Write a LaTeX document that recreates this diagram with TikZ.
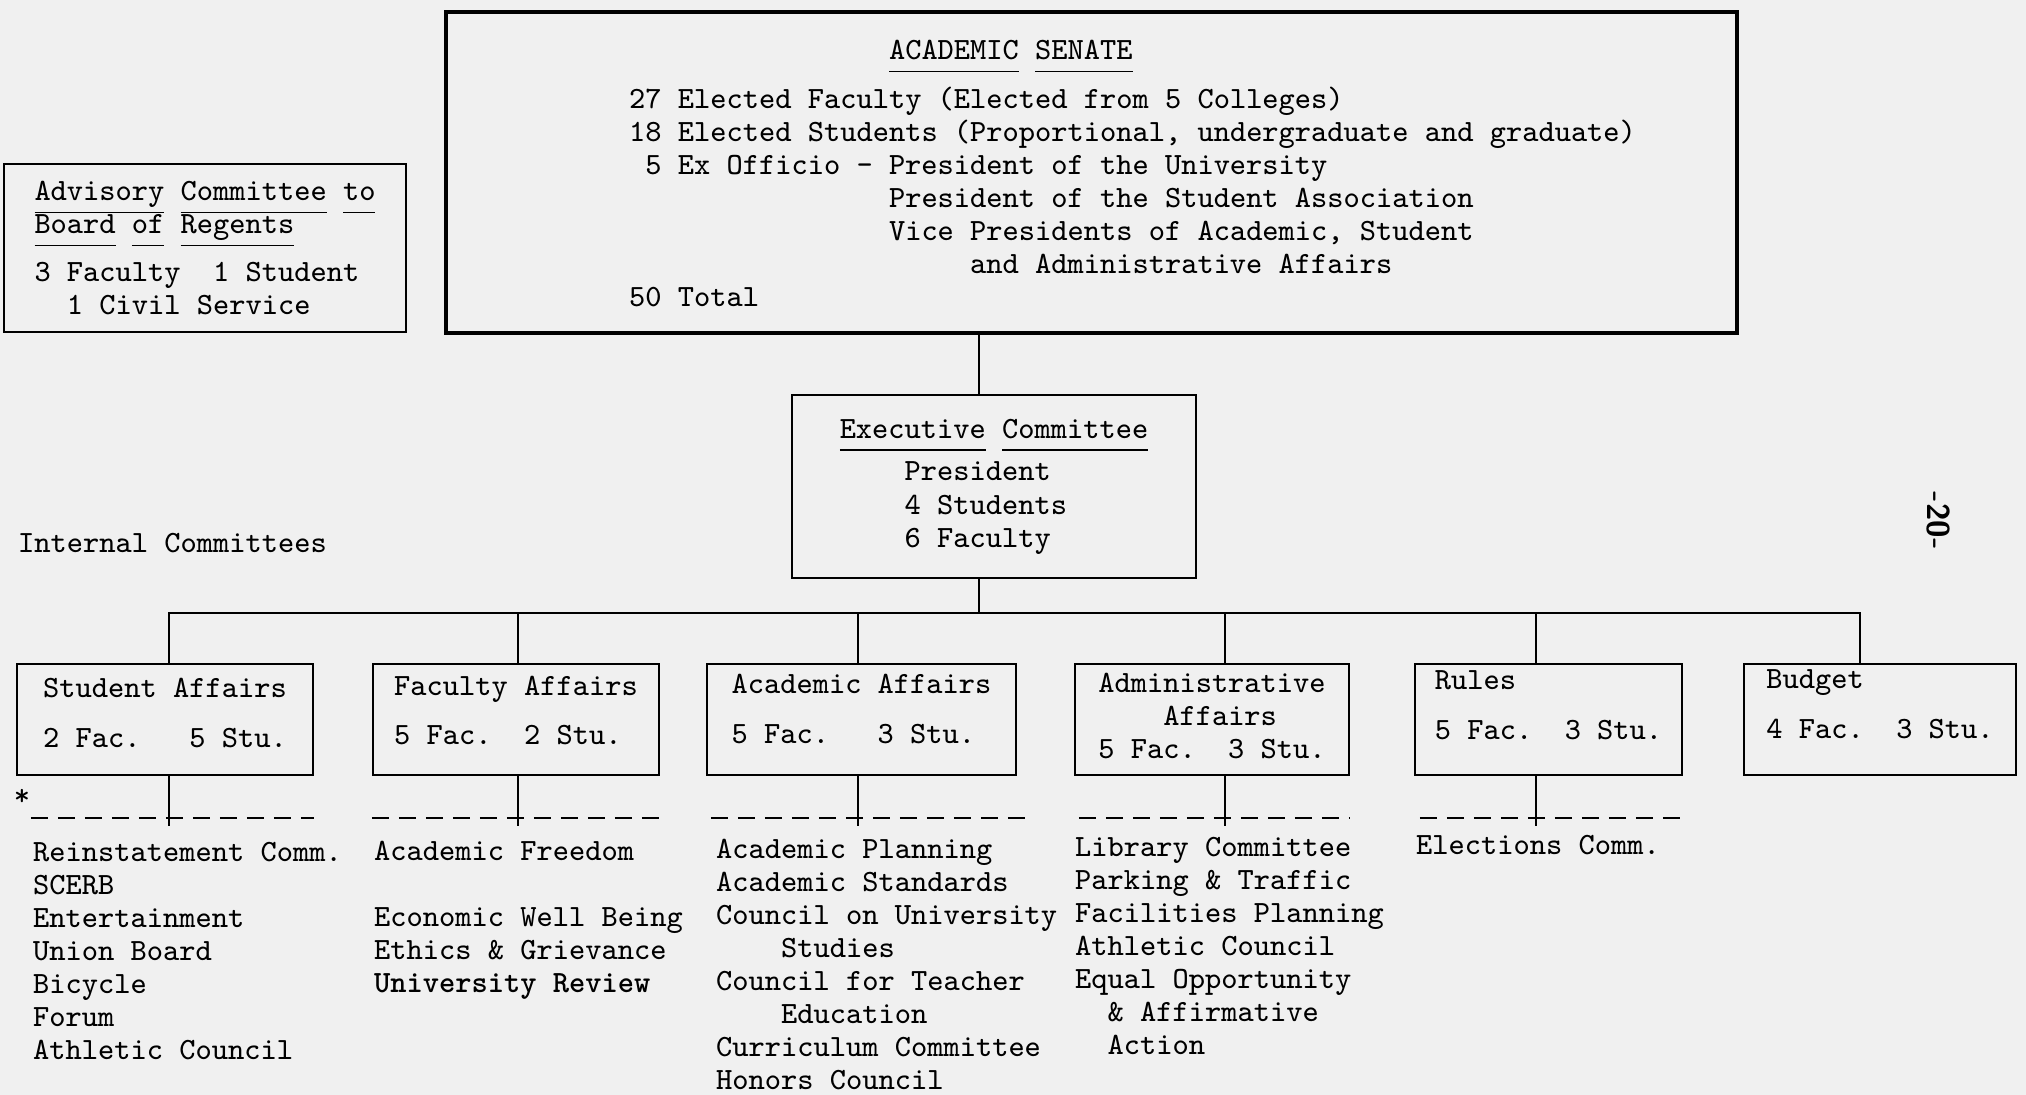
\documentclass[tikz,border=0pt]{standalone}
\usepackage{fontspec}
\newcommand{\chars}[1]{\hspace*{\dimexpr #1em*21/40\relax}}
\newcommand{\uword}[1]{\raisebox{0pt}[\height][0pt]{\underline{#1\vphantom{y}}}}

\begin{document}
\begin{tikzpicture}[
  every node/.style={font=\ttfamily\fontsize{8.8}{9.4}\selectfont\frenchspacing, inner sep=0pt},
  box/.style={draw, align=left},
  list/.style={anchor=north west, align=left},
  dashline/.style={dash pattern=on 1.7mm off 1mm},
  line width=0.7pt]
\fill[black!6] (0,0) rectangle (20.26,10.95);
\useasboundingbox (0,0) rectangle (20.26,10.95);

% senate and advisory committee
\node[box, minimum width=12.91cm, minimum height=3.21cm, line width=0.9pt] (senate) at (10.915,9.225) {};
\node[list] (senatetext) at (6.28,10.56) {\chars{16}\uword{ACADEMIC} \uword{SENATE}\\[4.5pt]
27 Elected Faculty (Elected from 5 Colleges)\\
18 Elected Students (Proportional, undergraduate and graduate)\\
\chars{1}5 Ex Officio - President of the University\\
\chars{16}President of the Student Association\\
\chars{16}Vice Presidents of Academic, Student\\
\chars{21}and Administrative Affairs\\
50 Total};
\node[box, minimum width=4.02cm, minimum height=1.68cm] (advisory) at (2.05,8.47)
  {\uword{Advisory} \uword{Committee} \uword{to}\\\uword{Board} \uword{of} \uword{Regents}\\[4.3pt]
   3 Faculty\chars{2}1 Student\\\chars{2}1 Civil Service};

% executive committee
\node[box, minimum width=4.04cm, minimum height=1.83cm] (exec) at (9.94,6.085)
  {\uword{Executive} \uword{Committee}\\[2.8pt]\chars{4}President\\\chars{4}4 Students\\\chars{4}6 Faculty};
\coordinate (top) at ([xshift=-1.5mm]exec.north);
\draw (top) -- (top |- senate.south);
\coordinate (bus) at ([xshift=-1.5mm,yshift=-3.4mm]exec.south);
\draw ([xshift=-1.5mm]exec.south) -- (bus);

\node[anchor=west] (internal) at (0.17,5.52) {Internal Committees};
\node[rotate=-90, font=\sffamily\bfseries\fontsize{9}{10}\selectfont] (page) at (19.38,5.74) {-20-};

% internal committees
\node[box, minimum width=2.96cm, minimum height=1.11cm, text depth=3.7pt] (stud) at (1.65,3.755) {Student Affairs\\[4.8pt]2 Fac.\chars{3}5 Stu.};
\node[box, minimum width=2.86cm, minimum height=1.11cm, text depth=5.2pt] (fac) at (5.16,3.755) {Faculty Affairs\\[4.8pt]5 Fac.\chars{2}2 Stu.};
\node[box, minimum width=3.09cm, minimum height=1.11cm, text depth=6.2pt] (acad) at (8.615,3.755) {Academic Affairs\\[4.8pt]5 Fac.\chars{3}3 Stu.};
\node[box, minimum width=2.74cm, minimum height=1.11cm, text depth=2.2pt] (adm) at (12.12,3.755) {Administrative\\\chars{4}Affairs\\5 Fac.\chars{2}3 Stu.};
\node[box, minimum width=2.67cm, minimum height=1.11cm, text depth=8pt] (rules) at (15.485,3.755) {Rules\\[4.8pt]5 Fac.\chars{2}3 Stu.};
\node[box, minimum width=2.72cm, minimum height=1.11cm, text depth=8.8pt] (budget) at (18.80,3.755) {Budget\\[4.8pt]4 Fac.\chars{2}3 Stu.};

\draw ([xshift=0.4mm]stud.north) |- (bus);
\draw ([xshift=0.2mm]fac.north) |- (bus);
\draw ([xshift=-0.35mm]acad.north) |- (bus);
\draw ([xshift=1.3mm]adm.north) |- (bus);
\draw ([xshift=-1.25mm]rules.north) |- (bus);
\draw ([xshift=-2mm]budget.north) |- (bus);

% sub-committees
\draw ([xshift=0.4mm]stud.south) -- ++(0,-0.5);
\draw ([xshift=0.2mm]fac.south) -- ++(0,-0.5);
\draw ([xshift=-0.35mm]acad.south) -- ++(0,-0.5);
\draw ([xshift=1.3mm]adm.south) -- ++(0,-0.5);
\draw ([xshift=-1.25mm]rules.south) -- ++(0,-0.5);
\draw[dashline] ([xshift=1.5mm,yshift=-4.2mm]stud.south west) -- ([yshift=-4.2mm]stud.south east);
\draw[dashline] ([yshift=-4.2mm]fac.south west) -- ([yshift=-4.2mm]fac.south east);
\draw[dashline] ([xshift=0.5mm,yshift=-4.2mm]acad.south west) -- ([xshift=0.9mm,yshift=-4.2mm]acad.south east);
\draw[dashline] ([xshift=0.5mm,yshift=-4.2mm]adm.south west) -- ([yshift=-4.2mm]adm.south east);
\draw[dashline] ([xshift=0.6mm,yshift=-4.2mm]rules.south west) -- ([yshift=-4.2mm]rules.south east);

\node (star) at (0.22,2.98) {*};
\node[list] (studlist) at (0.32,2.54) {Reinstatement Comm.\\SCERB\\Entertainment\\Union Board\\Bicycle\\Forum\\Athletic Council};
\node[list] (faclist) at (3.73,2.55) {Academic Freedom\\[9.4pt]Economic Well Being\\Ethics \& Grievance\\\textbf{University Review}};
\node[list] (acadlist) at (7.15,2.57) {Academic Planning\\Academic Standards\\Council on University\\\chars{4}Studies\\Council for Teacher\\\chars{4}Education\\Curriculum Committee\\Honors Council};
\node[list] (admlist) at (10.74,2.59) {Library Committee\\Parking \& Traffic\\Facilities Planning\\Athletic Council\\Equal Opportunity\\\chars{2}\& Affirmative\\\chars{2}Action};
\node[list] (ruleslist) at (14.15,2.61) {Elections Comm.};
\end{tikzpicture}
\end{document}
